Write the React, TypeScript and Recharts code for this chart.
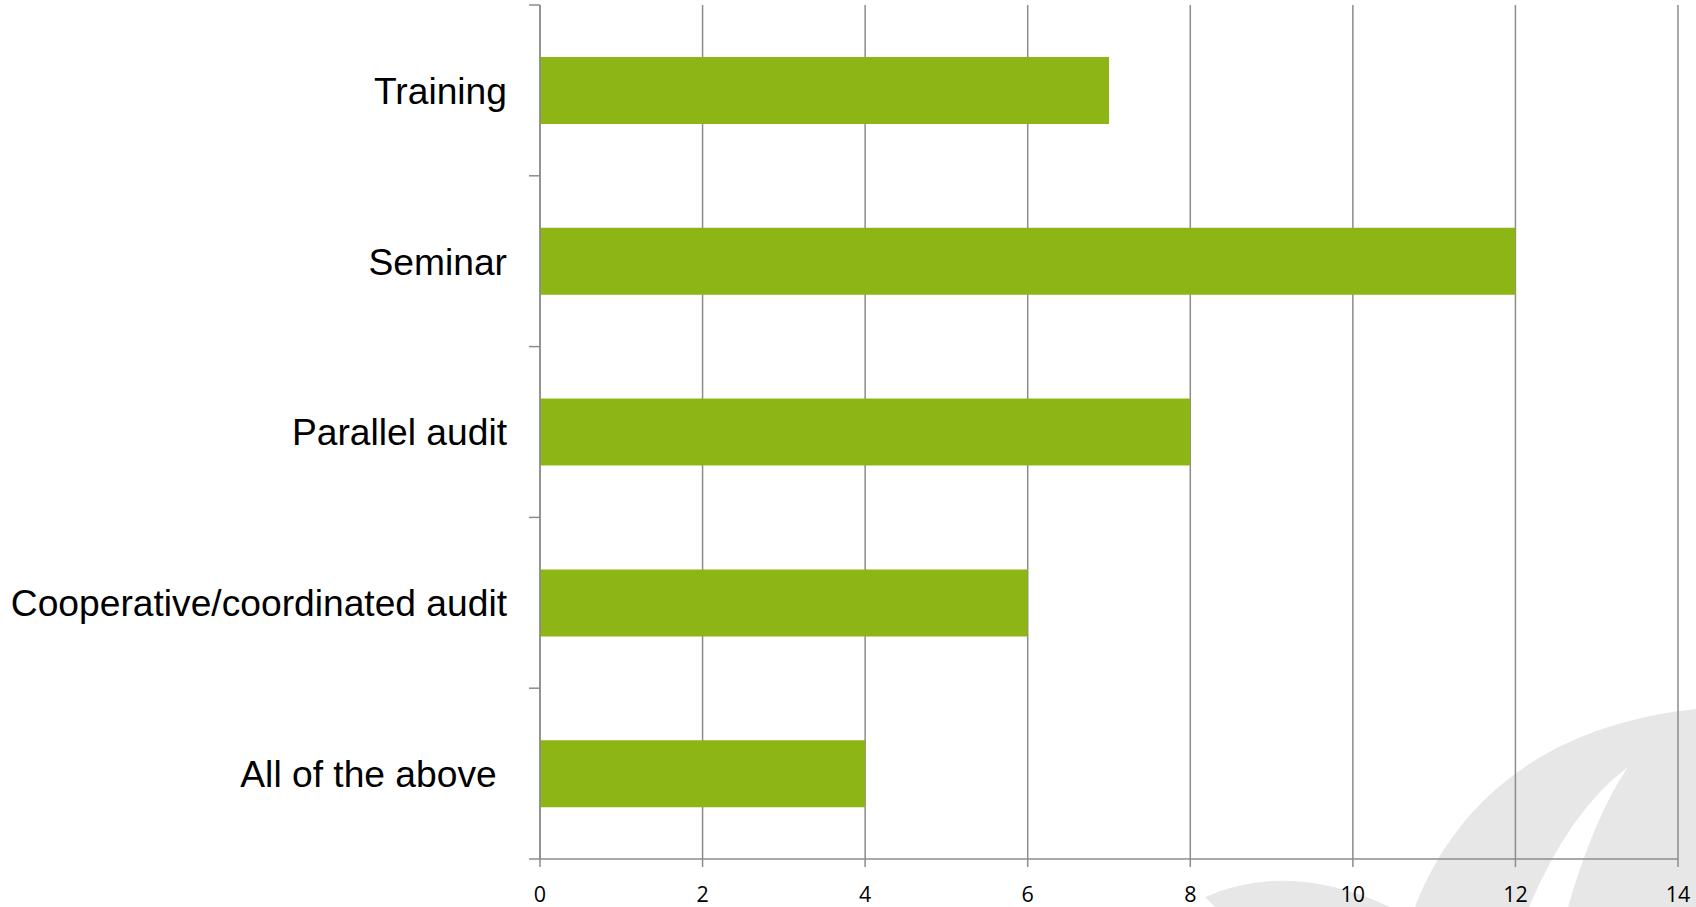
import React from "react";
import {
  BarChart,
  Bar,
  XAxis,
  YAxis,
  CartesianGrid,
} from "recharts";

const categories = [
  "Training",
  "Seminar",
  "Parallel audit",
  "Cooperative/coordinated audit",
  "All of the above ",
];
const counts = [7, 12, 8, 6, 4];
const xTicks = [0, 2, 4, 6, 8, 10, 12, 14];

const data = categories.map((name, i) => ({ name, count: counts[i] }));

const GREEN = "#8db515";
const AXIS_GREY = "#8c8c8c";
const LABEL_GAP = 33;

interface TickProps {
  x?: number;
  y?: number;
  index?: number;
  payload?: { value: string | number; offset?: number };
}

const CategoryTick = ({ x = 0, y = 0, index = 0, payload }: TickProps) => {
  const half = payload?.offset ?? 0;
  const axisX = x + LABEL_GAP;
  return (
    <g>
      {index === 0 && (
        <line x1={axisX - 11} x2={axisX} y1={y - half} y2={y - half} stroke={AXIS_GREY} strokeWidth={1.5} />
      )}
      <line x1={axisX - 11} x2={axisX} y1={y + half} y2={y + half} stroke={AXIS_GREY} strokeWidth={1.5} />
      <text
        x={x}
        y={y}
        dy="0.36em"
        textAnchor="end"
        fill="#000"
        style={{ whiteSpace: "pre", fontFamily: "'Liberation Sans', Arial, sans-serif", fontSize: 37.2 }}
      >
        {payload?.value}
      </text>
    </g>
  );
};

const ValueTick = ({ x = 0, y = 0, payload }: TickProps) => (
  <text
    x={x}
    y={y}
    dy="0.72em"
    textAnchor="middle"
    fill="#000"
    style={{ fontFamily: "'Open Sans', sans-serif", fontSize: 21.5 }}
  >
    {payload?.value}
  </text>
);

// light grey swoosh in the slide background
const Watermark = () => (
  <svg width={1696} height={907} style={{ position: "absolute", left: 0, top: 0 }}>
    <path
      d="M1696 709 C1560 723 1460 790 1415 907 L1529 907 Q1570 810 1628 767 Q1595 815 1568 907 L1696 907 Z"
      fill="#e7e7e7"
    />
    <path d="M1205 897 Q1290 860 1390 907 L1215 907 Z" fill="#e7e7e7" />
  </svg>
);

export default function App() {
  return (
    <div style={{ position: "absolute", left: 0, top: 0, width: 1696, height: 907, background: "#fff" }}>
      <Watermark />
      <div style={{ position: "absolute", left: 0, top: 0 }}>
        <BarChart
          width={1696}
          height={907}
          data={data}
          layout="vertical"
          margin={{ top: 5, right: 18, bottom: 8, left: 0 }}
        >
          <CartesianGrid horizontal={false} stroke={AXIS_GREY} strokeWidth={1.5} />
          <XAxis
            type="number"
            domain={[0, 14]}
            ticks={xTicks}
            interval={0}
            height={40}
            tickSize={8}
            tickMargin={20}
            axisLine={{ stroke: AXIS_GREY, strokeWidth: 1.5 }}
            tickLine={{ stroke: AXIS_GREY, strokeWidth: 1.5 }}
            tick={<ValueTick />}
          />
          <YAxis
            type="category"
            dataKey="name"
            width={540}
            interval={0}
            tickSize={0}
            tickMargin={LABEL_GAP}
            tickLine={false}
            axisLine={{ stroke: AXIS_GREY, strokeWidth: 1.5 }}
            tick={<CategoryTick />}
          />
          <Bar dataKey="count" fill={GREEN} barSize={67} isAnimationActive={false} />
        </BarChart>
      </div>
    </div>
  );
}
